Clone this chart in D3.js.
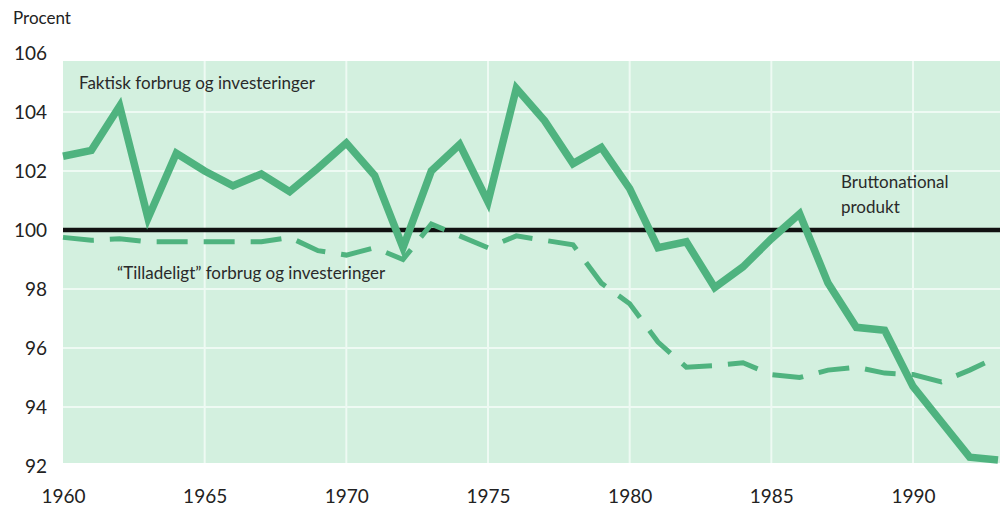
<!DOCTYPE html>
<html>
<head>
<meta charset="utf-8">
<script src="https://cdn.jsdelivr.net/npm/d3@7"></script>
<style>
  body { margin: 0; background: #fff; }
  svg { display: block; font-family: "Lato", "Open Sans", sans-serif; }
</style>
</head>
<body>
<svg id="chart" width="1006" height="511"></svg>
<script>
// årstal og værdier (procent af BNP)
const years = d3.range(1960, 1994);
const faktisk = [102.5, 102.7, 104.2, 100.4, 102.6, 102.0, 101.5, 101.9, 101.3, 102.1,
                 102.95, 101.85, 99.4, 102.0, 102.9, 100.95, 104.8, 103.7, 102.25, 102.8,
                 101.4, 99.4, 99.6, 98.05, 98.75, 99.7, 100.55, 98.2, 96.7, 96.6,
                 94.7, 93.5, 92.3, 92.2];
const tilladeligt = [99.75, 99.65, 99.7, 99.6, 99.6, 99.6, 99.6, 99.6, 99.75, 99.3,
                     99.15, 99.4, 99.0, 100.2, 99.8, 99.4, 99.8, 99.65, 99.5, 98.2,
                     97.5, 96.2, 95.35, 95.4, 95.5, 95.1, 95.0, 95.25, 95.35, 95.15,
                     95.1, 94.85, 95.25, 95.7];
const bnp = 100;
const yTicks = [92, 94, 96, 98, 100, 102, 104, 106];
const xTicks = [1960, 1965, 1970, 1975, 1980, 1985, 1990];

const svg = d3.select("#chart");
const plot = { left: 63, right: 1000, top: 61, bottom: 463 };

const x = d3.scaleLinear().domain([1960, 1993]).range([63, 998]);
const y = d3.scaleLinear().domain([92, 106]).range([466, 53]);

const green = "#4fb37f";

// baggrund
svg.append("rect")
  .attr("x", plot.left).attr("y", plot.top)
  .attr("width", plot.right - plot.left).attr("height", plot.bottom - plot.top)
  .attr("fill", "#d3f0df");

// lyse gitterlinjer
svg.append("g").selectAll("line")
  .data(yTicks.filter(d => y(d) > plot.top && y(d) < plot.bottom))
  .join("line")
  .attr("x1", plot.left).attr("x2", plot.right)
  .attr("y1", d => y(d)).attr("y2", d => y(d))
  .attr("stroke", "#eefaf3").attr("stroke-width", 2);

svg.append("g").selectAll("line")
  .data(xTicks.filter(d => d > 1960))
  .join("line")
  .attr("x1", d => x(d)).attr("x2", d => x(d))
  .attr("y1", plot.top).attr("y2", plot.bottom)
  .attr("stroke", "#eefaf3").attr("stroke-width", 2);

// y-akse tekster
const yAxis = d3.axisLeft(y).tickValues(yTicks).tickSize(0).tickPadding(0);
svg.append("g")
  .attr("transform", "translate(47,0)")
  .call(yAxis)
  .call(g => g.select(".domain").remove())
  .call(g => g.selectAll("text")
    .attr("font-size", 19).attr("fill", "#222").attr("font-family", "Lato, sans-serif"));

// x-akse tekster
const xAxis = d3.axisBottom(x).tickValues(xTicks).tickFormat(d3.format("d")).tickSize(0).tickPadding(0);
svg.append("g")
  .attr("transform", "translate(0,489)")
  .call(xAxis)
  .call(g => g.select(".domain").remove())
  .call(g => g.selectAll("text")
    .attr("font-size", 19).attr("fill", "#222").attr("font-family", "Lato, sans-serif"));

svg.append("text")
  .attr("x", 13).attr("y", 24)
  .attr("font-size", 17).attr("fill", "#222")
  .text("Procent");

// BNP = 100
svg.append("line")
  .attr("x1", plot.left).attr("x2", plot.right)
  .attr("y1", y(bnp)).attr("y2", y(bnp))
  .attr("stroke", "#111").attr("stroke-width", 4.5);

const line = d3.line()
  .x((d, i) => x(years[i]))
  .y(d => y(d));

svg.append("path")
  .datum(tilladeligt)
  .attr("fill", "none")
  .attr("stroke", green)
  .attr("stroke-width", 5)
  .attr("stroke-dasharray", "31,16")
  .attr("d", line);

svg.append("path")
  .datum(faktisk)
  .attr("fill", "none")
  .attr("stroke", green)
  .attr("stroke-width", 7.5)
  .attr("stroke-linejoin", "miter")
  .attr("d", line);

// tekster i diagrammet
const lbl = (tx, ty, s) => svg.append("text")
  .attr("x", tx).attr("y", ty)
  .attr("font-size", 17).attr("fill", "#2a2a2a")
  .text(s);

lbl(79, 89, "Faktisk forbrug og investeringer");
lbl(117, 279, "\u201CTilladeligt\u201D forbrug og investeringer");
lbl(841, 188, "Bruttonational");
lbl(841, 213, "produkt");
</script>
</body>
</html>
